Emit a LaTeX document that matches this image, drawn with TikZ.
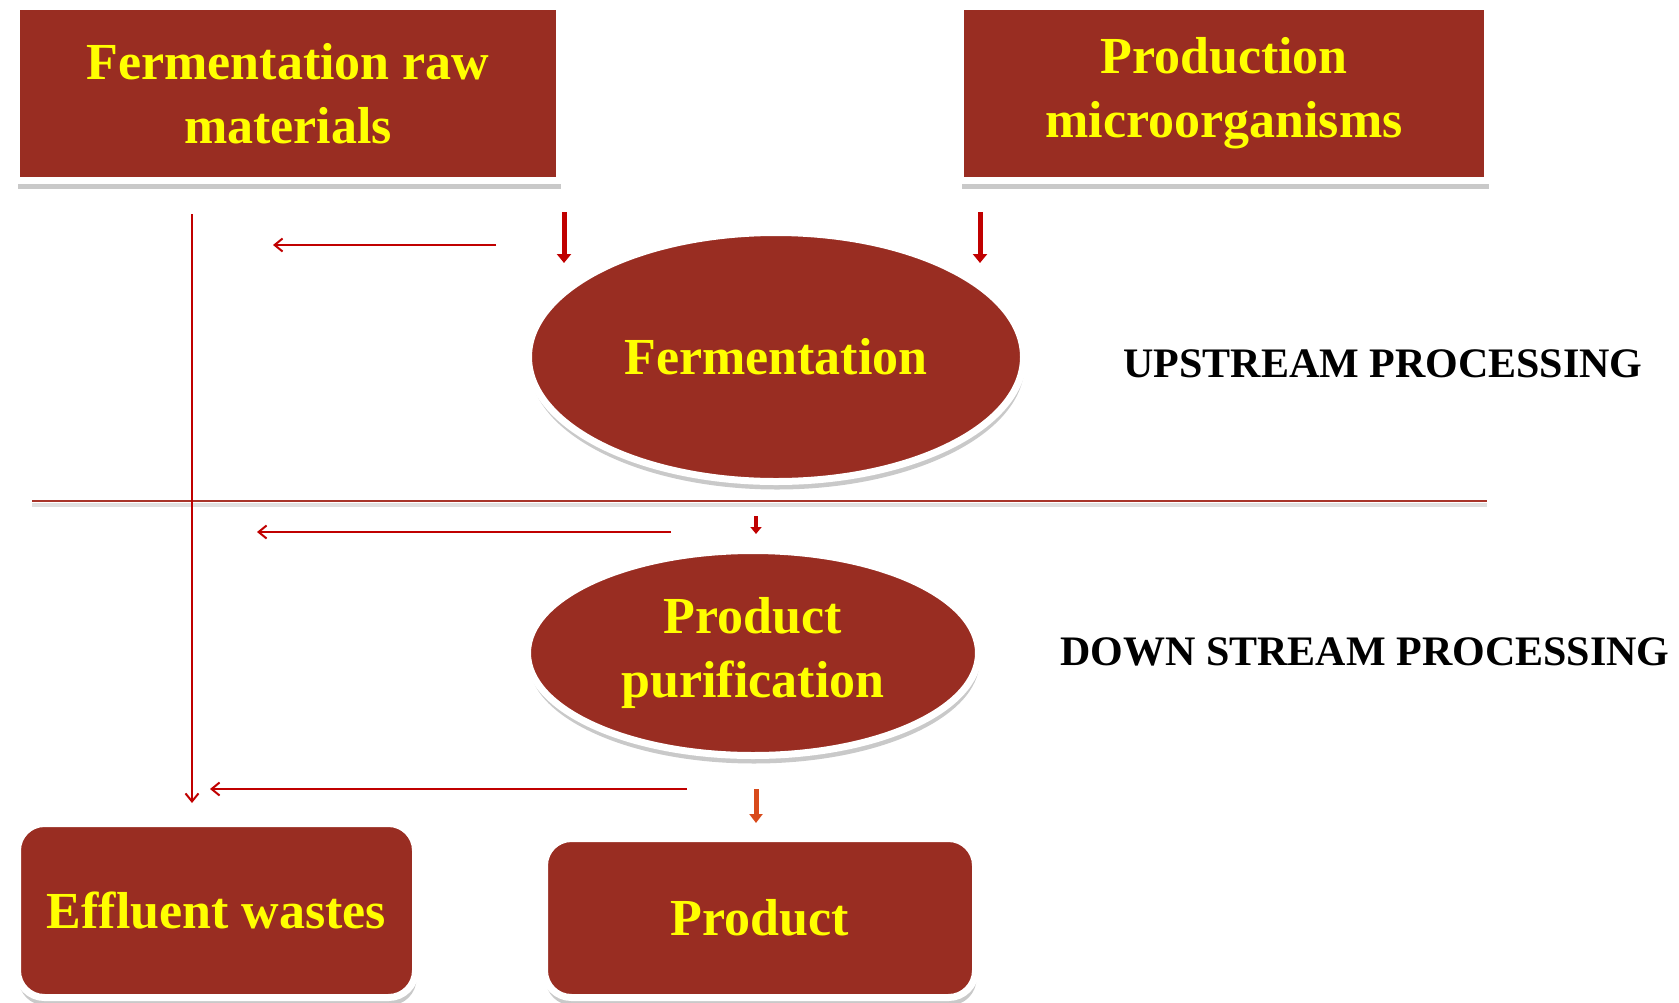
\documentclass[tikz,border=0pt]{standalone}
\usepackage{fontspec}
\setmainfont{Liberation Serif}
\usetikzlibrary{arrows.meta,shadows,shapes.geometric}
\definecolor{boxred}{HTML}{992D22}
\definecolor{txtyel}{HTML}{FFFF00}
\definecolor{arrred}{HTML}{C00000}
\definecolor{linered}{HTML}{A8342A}
\definecolor{arrorange}{HTML}{D84A1B}
\tikzset{
  boxstyle/.style={fill=boxred, draw=white, line width=7pt, text=txtyel,
    font=\fontsize{52}{64}\selectfont\bfseries, align=center, inner sep=0pt,
    drop shadow={shadow xshift=1pt, shadow yshift=-8pt, opacity=0.3, fill=black!70}},
  ellstyle/.style={boxstyle, ellipse},
  sidelabel/.style={font=\fontsize{42}{50}\selectfont\bfseries, text=black, inner sep=0pt},
  thinarrow/.style={draw=arrred, line width=2pt, -{Straight Barb[width=13pt,length=8pt,line width=2pt]}},
  fatarrow/.style={draw=arrred, line width=5pt, -{Triangle[width=14pt,length=9pt]}},
}
\begin{document}
\begin{tikzpicture}[x=1pt,y=-1pt]
\useasboundingbox (0,0) rectangle (1679,1002);
% boxes
\node[boxstyle, minimum width=543pt, minimum height=174pt] (raw) at (288,93.5) {Fermentation raw\\materials};
\node[boxstyle, minimum width=527pt, minimum height=174pt] (micro) at (1224,93.5) {Production\\microorganisms};
\node[ellstyle, minimum width=495pt, minimum height=249pt] (ferm) at (776,357) {Fermentation};
\node[ellstyle, minimum width=451pt, minimum height=205pt] (purif) at (753,653) {Product\\purification};
\node[boxstyle, rounded corners=27pt, minimum width=398pt, minimum height=174pt] (waste) at (216.5,910.5) {Effluent wastes};
\node[boxstyle, rounded corners=27pt, minimum width=431pt, minimum height=159pt] (prod) at (760,918) {Product};
% side labels
\node[sidelabel] (up) at (1383,364) {UPSTREAM PROCESSING};
\node[sidelabel] (down) at (1365,652) {DOWN STREAM PROCESSING};
% divider
\coordinate (hl) at (32,501);
\coordinate (hr) at (1487,501);
\draw[black!12, line width=4pt] ([yshift=-3.5pt]hl) -- ([yshift=-3.5pt]hr);
\draw[linered, line width=2.5pt] (hl) -- (hr);
% vertical line to wastes
\coordinate (vtop) at (192,214);
\coordinate (vbot) at (192,803);
\draw[thinarrow] (vtop) -- (vbot);
% horizontal arrows
\coordinate (a1s) at (496,245); \coordinate (a1e) at (273,245);
\draw[thinarrow] (a1s) -- (a1e);
\coordinate (a2s) at (671,532); \coordinate (a2e) at (257,532);
\draw[thinarrow] (a2s) -- (a2e);
\coordinate (a3s) at (687,789); \coordinate (a3e) at (210,789);
\draw[thinarrow] (a3s) -- (a3e);
% fat arrows
\coordinate (f1s) at (564,212); \coordinate (f1e) at (564,263);
\draw[fatarrow] (f1s) -- (f1e);
\coordinate (f2s) at (980,212); \coordinate (f2e) at (980,263);
\draw[fatarrow] (f2s) -- (f2e);
\coordinate (f3s) at (756,516); \coordinate (f3e) at (756,534);
\draw[draw=arrred, line width=4pt, -{Triangle[width=11pt,length=7pt]}] (f3s) -- (f3e);
\coordinate (f4s) at (756,789); \coordinate (f4e) at (756,823);
\draw[draw=arrorange, line width=5pt, -{Triangle[width=13pt,length=9pt]}] (f4s) -- (f4e);
\end{tikzpicture}
\end{document}
